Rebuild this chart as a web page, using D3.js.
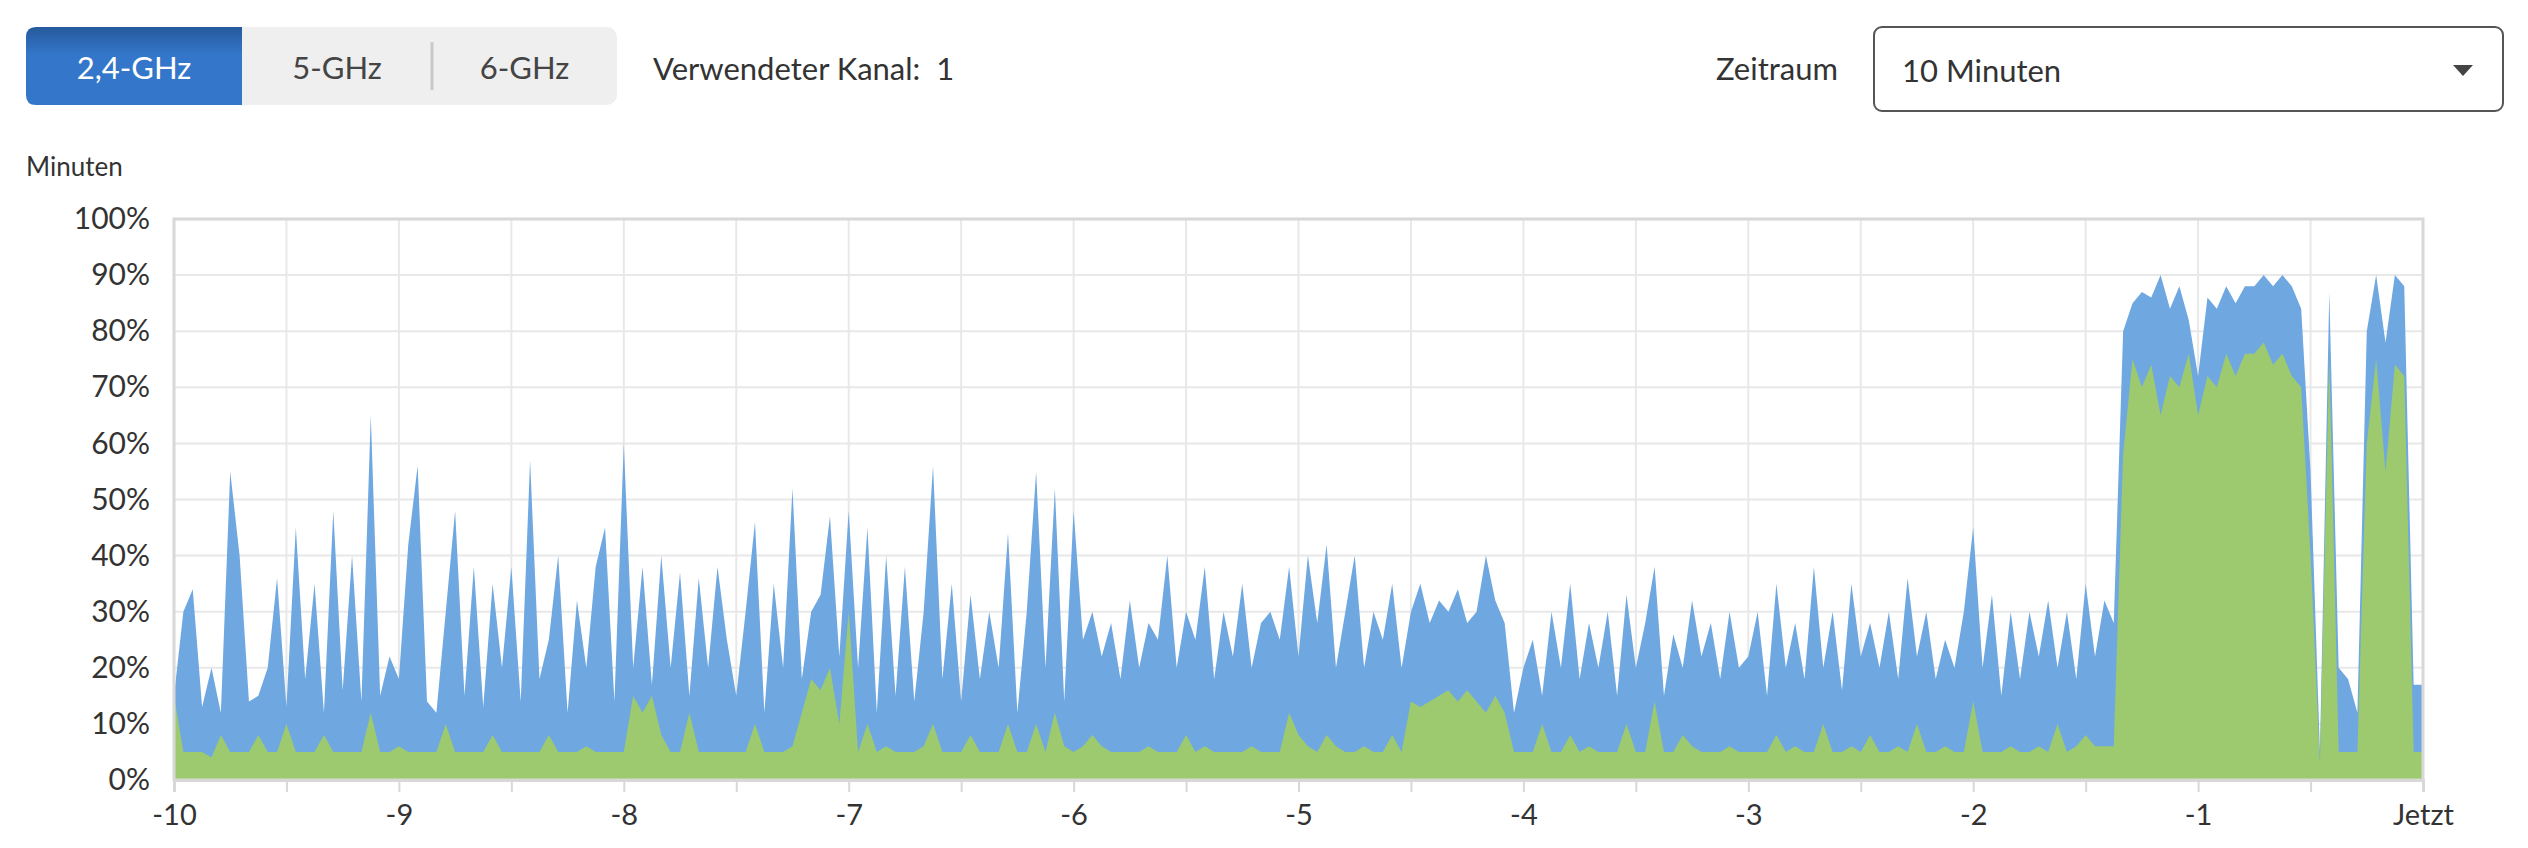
<!DOCTYPE html>
<html><head><meta charset="utf-8">
<script src="https://cdn.jsdelivr.net/npm/d3@7"></script>
<style>body{margin:0;background:#fff;font-family:Lato,"Open Sans",sans-serif;}</style>
</head><body><svg id="c" width="2528" height="848"></svg>
<script>
const bands=["2,4-GHz","5-GHz","6-GHz"];
const channelLabel="Verwendeter Kanal:  1";
const periodLabel="Zeitraum", periodValue="10 Minuten", yTitle="Minuten";
const xTicks=[-10,-9,-8,-7,-6,-5,-4,-3,-2,-1,0];
const xTickLabels=["-10","-9","-8","-7","-6","-5","-4","-3","-2","-1","Jetzt"];
const yTicks=[0,10,20,30,40,50,60,70,80,90,100];
const blueM=[
[15,30,34,13,20,12,55,40,14,15,20,36,13,45,18,35,12,48,16,40,14,65,15,22],
[18,42,56,14,12,30,48,15,38,13,35,20,38,14,57,18,25,40,12,32,20,38,45,14],
[60,20,38,17,40,20,37,15,36,20,38,25,15,30,46,12,35,20,52,18,30,33,47,22],
[48,20,45,12,40,15,38,14,30,56,18,35,14,33,18,30,20,44,12,30,55,20,52,14],
[48,25,30,22,28,18,32,20,28,25,40,20,30,25,38,18,30,22,35,20,28,30,25,38],
[22,40,28,42,20,30,40,20,30,25,35,20,30,35,28,32,30,34,28,30,40,32,28,12],
[20,25,15,30,20,35,18,28,20,30,15,33,20,28,38,15,26,20,32,22,28,18,30,20],
[22,30,15,35,20,28,18,38,20,30,16,35,22,28,20,30,18,36,22,30,18,25,20,30],
[45,20,33,15,30,18,30,22,32,20,30,18,35,22,32,28,80,85,87,86,90,84,88,82],
[72,86,84,88,85,88,88,90,88,90,88,84,55,5,87,20,18,12,80,90,78,90,88,17,17]];
const greenM=[
[15,5,5,5,4,8,5,5,5,8,5,5,10,5,5,5,8,5,5,5,5,12,5,5],
[6,5,5,5,5,10,5,5,5,5,8,5,5,5,5,5,8,5,5,5,6,5,5,5],
[5,15,12,15,8,5,5,12,5,5,5,5,5,5,10,5,5,5,6,12,18,16,20,10],
[30,5,10,5,6,5,5,5,6,10,5,5,5,8,5,5,5,10,5,5,10,5,12,6],
[5,6,8,6,5,5,5,5,6,5,5,5,8,5,6,5,5,5,5,6,5,5,5,12],
[8,6,5,8,6,5,5,6,5,5,8,5,14,13,14,15,16,14,16,14,12,15,12,5],
[5,5,10,5,5,8,5,6,5,5,5,10,5,5,14,5,5,8,6,5,5,5,6,5],
[5,5,5,8,5,6,5,5,10,5,5,6,5,8,5,5,6,5,10,5,5,6,5,5],
[14,5,5,5,6,5,5,6,5,10,5,6,8,6,6,6,58,75,70,74,65,72,70,76],
[65,72,70,76,72,76,76,78,74,76,72,70,40,3,75,5,5,5,60,75,55,74,72,5,5]];
const blue=blueM.flat(), green=greenM.flat();
const n=blue.length;
const data=blue.map((b,i)=>({t:-10+i*10/(n-1),b:b,g:Math.min(green[i],b)}));

const svg=d3.select("#c");
const L=174,R=2423,T=219,B=780;
const x=d3.scaleLinear().domain([-10,0]).range([L,R]);
const y=d3.scaleLinear().domain([0,100]).range([B,T]);
const txt="#333";

const bx=[26,242,432,617];
svg.append("rect").attr("x",26).attr("y",27).attr("width",591).attr("height",78).attr("rx",10).attr("fill","#efefef");
const grad=svg.append("defs").append("linearGradient").attr("id","bg").attr("x1",0).attr("y1",0).attr("x2",0).attr("y2",1);
grad.append("stop").attr("offset",0).attr("stop-color","#255a9c");
grad.append("stop").attr("offset",0.35).attr("stop-color","#3476c9");
grad.append("stop").attr("offset",1).attr("stop-color","#3476c9");
svg.append("path").attr("d","M36,27 H242 V105 H36 Q26,105 26,95 V37 Q26,27 36,27 Z").attr("fill","url(#bg)");
svg.append("line").attr("x1",432).attr("x2",432).attr("y1",42).attr("y2",90).attr("stroke","#c8c8c8").attr("stroke-width",3);
bands.forEach((b,i)=>svg.append("text").attr("x",(bx[i]+bx[i+1])/2).attr("y",79).attr("text-anchor","middle")
 .attr("font-size",31).attr("fill",i==0?"#fff":"#444").text(b));
svg.append("text").attr("x",653).attr("y",80).attr("font-size",31).attr("fill",txt).attr("xml:space","preserve").text(channelLabel);
svg.append("text").attr("x",1838).attr("y",80).attr("font-size",31).attr("fill",txt).attr("text-anchor","end").text(periodLabel);
svg.append("rect").attr("x",1874).attr("y",27).attr("width",629).attr("height",84).attr("rx",8).attr("fill","#fff").attr("stroke","#555").attr("stroke-width",2);
svg.append("text").attr("x",1902).attr("y",82).attr("font-size",31).attr("fill",txt).text(periodValue);
svg.append("path").attr("d","M2453,65 L2473,65 L2463,76 Z").attr("fill","#444");
svg.append("text").attr("x",26).attr("y",176).attr("font-size",26).attr("fill",txt).text(yTitle);

const g=svg.append("g");
g.selectAll(".hy").data(yTicks).join("line").attr("x1",L).attr("x2",R).attr("y1",d=>y(d)).attr("y2",d=>y(d)).attr("stroke","#e8e8e8").attr("stroke-width",2);
g.selectAll(".vx").data(d3.range(-9.5,0,0.5)).join("line").attr("x1",d=>x(d)).attr("x2",d=>x(d)).attr("y1",T).attr("y2",B).attr("stroke","#e8e8e8").attr("stroke-width",2);

const ab=d3.area().x(d=>x(d.t)).y0(y(0)).y1(d=>y(d.b));
const ag=d3.area().x(d=>x(d.t)).y0(y(0)).y1(d=>y(d.g));
svg.append("path").datum(data).attr("d",ab).attr("fill","#6fa8e0");
svg.append("path").datum(data).attr("d",ag).attr("fill","#9dca6e");
svg.append("rect").attr("x",L).attr("y",T).attr("width",R-L).attr("height",B-T).attr("fill","none").attr("stroke","#d8d8d8").attr("stroke-width",3);

const xa=svg.append("g").attr("transform",`translate(0,${B})`).call(d3.axisBottom(x).tickValues(d3.range(-10,0.01,0.5)).tickSize(12).tickFormat(d=>{const k=xTicks.indexOf(d);return k<0?"":xTickLabels[k];}));
xa.select(".domain").attr("stroke","#d8d8d8").attr("stroke-width",3);
xa.selectAll(".tick line").attr("stroke","#d8d8d8").attr("stroke-width",2);
xa.selectAll("text").attr("font-size",29).attr("fill",txt).attr("font-family","Lato").attr("dy","1.05em");
const ya=svg.append("g").attr("transform",`translate(${L},0)`).call(d3.axisLeft(y).tickValues(yTicks).tickSize(0).tickPadding(24).tickFormat(d=>d+"%"));
ya.select(".domain").remove();
ya.selectAll("text").attr("font-size",30).attr("fill",txt).attr("font-family","Lato");
</script></body></html>
